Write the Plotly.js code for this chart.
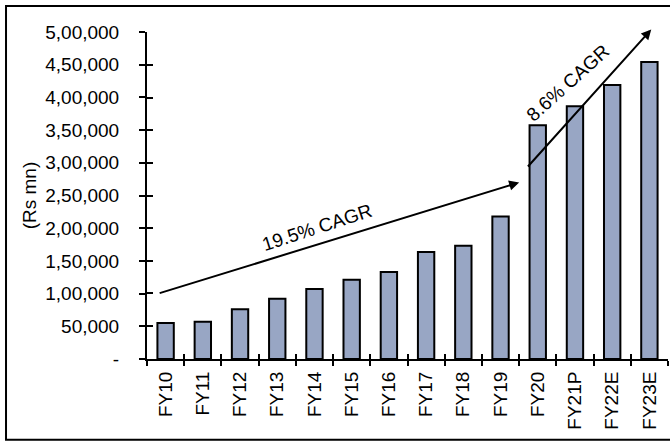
<!DOCTYPE html>
<html>
<head>
<meta charset="utf-8">
<script src="https://cdn.plot.ly/plotly-3.0.1.min.js"></script>
<style>
  html, body { margin: 0; padding: 0; background: #fff; }
  #chart { width: 670px; height: 443px; }
</style>
</head>
<body>
<div id="chart"></div>
<script>
// Fiscal years and values (Rs mn)
const years = ["FY10", "FY11", "FY12", "FY13", "FY14", "FY15", "FY16", "FY17", "FY18", "FY19", "FY20", "FY21P", "FY22E", "FY23E"];
const values = [55000, 57000, 76000, 92000, 107000, 121000, 133000, 163500, 173000, 218000, 357500, 386500, 419000, 454000];

// Y-axis ticks in Indian digit grouping
const yTickVals = [0, 50000, 100000, 150000, 200000, 250000, 300000, 350000, 400000, 450000, 500000];
const yTickText = ["-", "50,000", "1,00,000", "1,50,000", "2,00,000", "2,50,000", "3,00,000", "3,50,000", "4,00,000", "4,50,000", "5,00,000"];

// Growth arrows (category index / value coordinates) and their labels
const cagrArrows = [
  { x0: -0.2, y0: 100000, x1: 9.5, y1: 270000, label: "19.5% CAGR", lx: 4.06, ly: 201000, angle: -18 },
  { x0: 9.7, y0: 292000, x1: 13.05, y1: 504000, label: "8.6% CAGR", lx: 10.79, ly: 422000, angle: -42 }
];

const fontSize = 19;
const font = () => ({ family: "Liberation Sans, Arial, sans-serif", size: fontSize, color: "#000" });

const trace = {
  type: "bar",
  x: years,
  y: values,
  marker: { color: "#98a6c4", line: { color: "#000", width: 2 } },
  hoverinfo: "x+y"
};

// Invisible trace on the overlay axes, which carry the inward half of each tick mark
const overlay = {
  type: "scatter", mode: "markers", x: years, y: values,
  xaxis: "x2", yaxis: "y2", marker: { opacity: 0 }, hoverinfo: "skip", showlegend: false
};

const annotations = [];
cagrArrows.forEach(a => {
  annotations.push({
    x: a.x1, y: a.y1, ax: a.x0, ay: a.y0,
    xref: "x", yref: "y", axref: "x", ayref: "y",
    text: "", showarrow: true, arrowhead: 2, arrowsize: 1, arrowwidth: 2, arrowcolor: "#000"
  });
  annotations.push({
    x: a.lx, y: a.ly, xref: "x", yref: "y",
    text: a.label, showarrow: false, textangle: a.angle, font: font()
  });
});

const layout = {
  width: 670, height: 443,
  margin: { l: 147, r: 2, t: 32, b: 84 },
  paper_bgcolor: "#fff", plot_bgcolor: "#fff",
  showlegend: false,
  bargap: 0.56,
  font: font(),
  xaxis: {
    type: "category",
    range: [-0.5, 13.5],
    showline: true, linecolor: "#000", linewidth: 2,
    ticks: "outside", ticklen: 5, tickwidth: 2, tickcolor: "#000",
    tickson: "boundaries",
    tickangle: -90, tickfont: font(),
    ticklabelstandoff: 3,
    showgrid: false, zeroline: false, fixedrange: true
  },
  xaxis2: {
    type: "category", overlaying: "x", anchor: "y", side: "bottom", range: [-0.5, 13.5],
    ticks: "inside", ticklen: 5, tickwidth: 2, tickcolor: "#000",
    tickson: "boundaries", showticklabels: false, showgrid: false, zeroline: false, showline: false
  },
  yaxis: {
    range: [0, 500000],
    tickvals: yTickVals, ticktext: yTickText,
    showline: true, linecolor: "#000", linewidth: 2,
    ticks: "outside", ticklen: 6, tickwidth: 2, tickcolor: "#000",
    ticklabelstandoff: 16,
    tickfont: font(),
    showgrid: false, zeroline: false, fixedrange: true,
    title: { text: "(Rs mn)", font: font(), standoff: 4 }
  },
  yaxis2: {
    overlaying: "y", anchor: "x", side: "left", range: [-1500, 501500], tickvals: yTickVals,
    ticks: "inside", ticklen: 6, tickwidth: 2, tickcolor: "#000",
    showticklabels: false, showgrid: false, zeroline: false, showline: false
  },
  annotations: annotations,
  shapes: [{
    type: "rect", xref: "paper", yref: "paper",
    x0: -0.2706, x1: 1.02, y0: -0.2466, y1: 1.0795,
    line: { color: "#000", width: 2 }, fillcolor: "rgba(0,0,0,0)"
  }]
};

Plotly.newPlot("chart", [trace, overlay], layout, { staticPlot: true, displayModeBar: false });
</script>
</body>
</html>
